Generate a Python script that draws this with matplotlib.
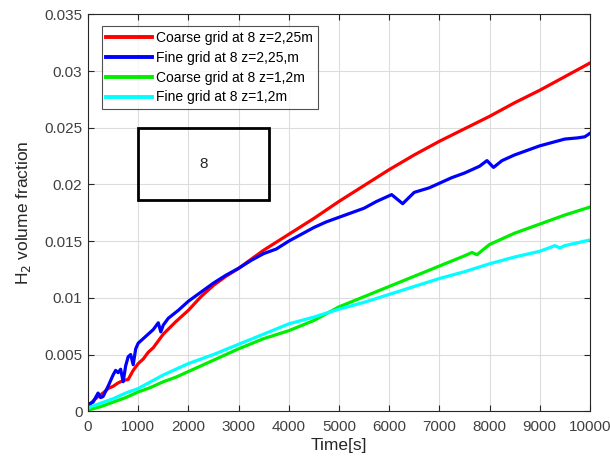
import matplotlib
matplotlib.use("Agg")
import matplotlib.pyplot as plt
from matplotlib.patches import Rectangle

plt.rcParams['font.family'] = ['Liberation Sans', 'DejaVu Sans']

# Coarse grid, sensor 8 at z=2.25 m
t_red = [0, 100, 200, 300, 400, 500, 600, 700, 800, 900, 1000, 1100, 1200, 1300,
         1400, 1500, 1750, 2000, 2250, 2500, 2750, 3000, 3250, 3500, 3750, 4000,
         4500, 5000, 5500, 6000, 6500, 7000, 7500, 8000, 8500, 9000, 9500, 10000]
v_red = [0.0004, 0.0009, 0.0013, 0.0016, 0.0020, 0.0022, 0.0025, 0.0027, 0.0028,
         0.0036, 0.0042, 0.0046, 0.0052, 0.0056, 0.0062, 0.0068, 0.0079, 0.0089,
         0.0101, 0.0111, 0.0119, 0.0126, 0.0134, 0.0142, 0.0149, 0.0156, 0.0170,
         0.0185, 0.0199, 0.0213, 0.0226, 0.0238, 0.0249, 0.0260, 0.0272, 0.0283,
         0.0295, 0.0307]

# Fine grid, sensor 8 at z=2.25 m
t_blue = [0, 100, 200, 250, 300, 400, 500, 550, 600, 650, 700, 750, 800, 850, 900,
          950, 1000, 1100, 1200, 1300, 1400, 1450, 1500, 1600, 1800, 2000, 2250,
          2500, 2750, 3000, 3250, 3500, 3750, 4000, 4250, 4500, 4750, 5000, 5250,
          5500, 5750, 6050, 6270, 6500, 6800, 7000, 7250, 7500, 7800, 7950, 8080,
          8250, 8500, 8750, 9000, 9250, 9500, 9750, 9900, 10000]
v_blue = [0.0006, 0.0008, 0.0016, 0.0012, 0.0013, 0.0022, 0.0032, 0.0036, 0.0034,
          0.0037, 0.0026, 0.0040, 0.0048, 0.0050, 0.0041, 0.0055, 0.0060, 0.0064,
          0.0068, 0.0072, 0.0078, 0.0070, 0.0076, 0.0082, 0.0089, 0.0097, 0.0105,
          0.0113, 0.0120, 0.0126, 0.0133, 0.0139, 0.0143, 0.0150, 0.0156, 0.0162,
          0.0167, 0.0171, 0.0175, 0.0179, 0.0185, 0.0191, 0.0183, 0.0193, 0.0197,
          0.0201, 0.0206, 0.0210, 0.0216, 0.0221, 0.0215, 0.0221, 0.0226, 0.0230,
          0.0234, 0.0237, 0.0240, 0.0241, 0.0242, 0.0245]

# Coarse grid, sensor 8 at z=1.2 m
t_green = [0, 250, 500, 750, 1000, 1250, 1500, 1750, 2000, 2500, 3000, 3500, 4000,
           4500, 5000, 5500, 6000, 6500, 7000, 7500, 7650, 7750, 8000, 8500, 9000,
           9500, 10000]
v_green = [0.0001, 0.0004, 0.0008, 0.0012, 0.0017, 0.0021, 0.0026, 0.0030, 0.0035,
           0.0045, 0.0055, 0.0064, 0.0071, 0.0080, 0.0092, 0.0101, 0.0110, 0.0119,
           0.0128, 0.0137, 0.0140, 0.0138, 0.0147, 0.0157, 0.0165, 0.0173, 0.0180]

# Fine grid, sensor 8 at z=1.2 m
t_cyan = [0, 250, 500, 750, 1000, 1250, 1500, 1750, 2000, 2500, 3000, 3500, 4000,
          4500, 5000, 5500, 6000, 6500, 7000, 7500, 8000, 8500, 9000, 9300, 9400,
          9500, 10000]
v_cyan = [0.0003, 0.0007, 0.0011, 0.0016, 0.0020, 0.0026, 0.0032, 0.0037, 0.0042,
          0.0050, 0.0059, 0.0068, 0.0077, 0.0083, 0.0090, 0.0096, 0.0103, 0.0110,
          0.0117, 0.0123, 0.0130, 0.0136, 0.0141, 0.0146, 0.0144, 0.0146, 0.0151]

labels = ["Coarse grid at 8 z=2,25m", "Fine grid at 8 z=2,25,m",
          "Coarse grid at 8 z=1,2m", "Fine grid at 8 z=1,2m"]
colors = ["#ff0000", "#0000ff", "#00ee00", "#00ffff"]

x_ticks = list(range(0, 10001, 1000))
y_ticks = [0, 0.005, 0.01, 0.015, 0.02, 0.025, 0.03, 0.035]
y_tick_labels = ["0", "0.005", "0.01", "0.015", "0.02", "0.025", "0.03", "0.035"]

fig = plt.figure(figsize=(6.10, 4.59), dpi=100)
ax = fig.add_axes([0.1443, 0.1041, 0.8227, 0.8647])

series = [(t_red, v_red), (t_blue, v_blue), (t_green, v_green), (t_cyan, v_cyan)]
for (t, v), c, lab in zip(series, colors, labels):
    ax.plot(t, v, color=c, lw=2.3, label=lab, solid_joinstyle='round')

ax.set_xlim(0, 10000)
ax.set_ylim(0, 0.035)
ax.set_xticks(x_ticks)
ax.set_yticks(y_ticks)
ax.set_yticklabels(y_tick_labels)
ax.grid(True, color="#dcdcdc", lw=0.8)
ax.set_axisbelow(True)
ax.tick_params(direction='in', top=True, right=True, length=4, width=0.8,
               colors="#262626", labelsize=11, labelcolor="#404040")
ax.tick_params(axis='x', pad=6.5)
ax.tick_params(axis='y', pad=4)
for s in ax.spines.values():
    s.set_color("#262626")
    s.set_linewidth(0.8)

ax.set_xlabel("Time[s]", fontsize=12.5, color="#262626", labelpad=3)
ax.set_ylabel("H$_2$ volume fraction", fontsize=12.5, color="#262626", labelpad=8)

# Sensor marker box
ax.add_patch(Rectangle((1000, 0.0186), 2600, 0.0064, fill=False,
                       edgecolor="black", lw=2, zorder=5))
ax.text(2300, 0.0218, "8", ha="center", va="center", fontsize=11, color="#262626")

leg = ax.legend(loc="upper left", bbox_to_anchor=(0.027, 0.9705), fontsize=10,
                frameon=True, fancybox=False, edgecolor="#262626",
                handlelength=3.3, handletextpad=0.3, borderpad=0.35,
                labelspacing=0.42, borderaxespad=0.0)
leg.get_frame().set_linewidth(0.8)
for line in leg.get_lines():
    line.set_linewidth(2.8)

fig.savefig("out.png", dpi=100)
